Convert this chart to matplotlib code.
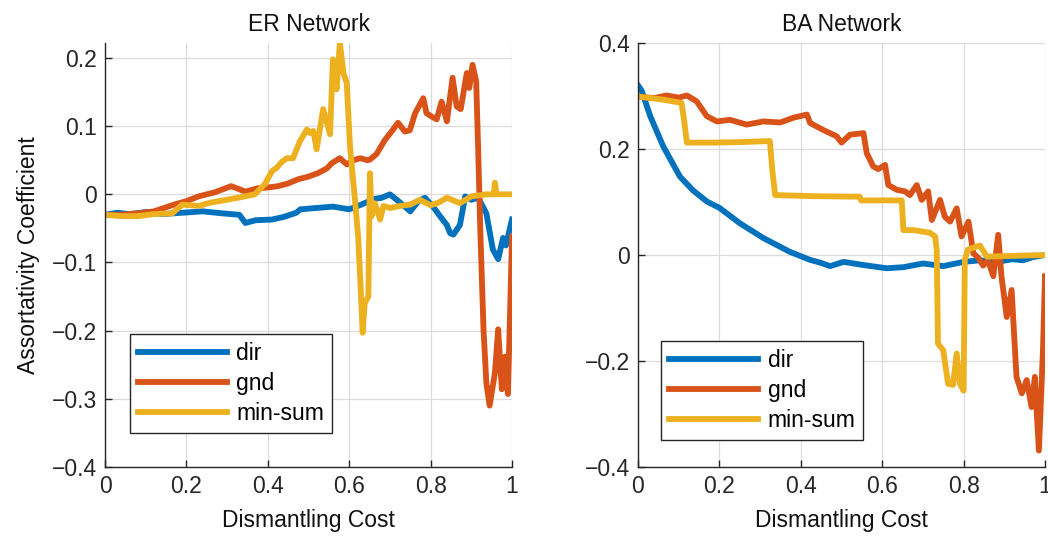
import numpy as np
import matplotlib.pyplot as plt

################################## DATA ##################################

# ER network (left panel)
er_dir_x = [0, 0.03, 0.06, 0.1, 0.14, 0.19, 0.24, 0.29, 0.33, 0.345, 0.37, 0.41, 0.44, 0.47,
            0.48, 0.52, 0.56, 0.6, 0.63, 0.66, 0.68, 0.70, 0.725, 0.75, 0.77, 0.786, 0.806,
            0.823, 0.84, 0.848, 0.856, 0.872, 0.885, 0.9, 0.917, 0.937, 0.953, 0.966, 0.978,
            0.985, 1.0]
er_dir_y = [-0.03, -0.027, -0.029, -0.026, -0.029, -0.027, -0.025, -0.028, -0.03, -0.042,
            -0.038, -0.037, -0.033, -0.027, -0.022, -0.02, -0.018, -0.022, -0.015, -0.007,
            -0.005, 0.0, -0.012, -0.025, -0.01, -0.005, -0.018, -0.032, -0.045, -0.057,
            -0.059, -0.045, -0.003, -0.008, -0.005, -0.028, -0.081, -0.095, -0.064, -0.075,
            -0.037]

er_gnd_x = [0, 0.04, 0.08, 0.12, 0.17, 0.2, 0.23, 0.27, 0.31, 0.345, 0.376, 0.4, 0.425, 0.45,
            0.474, 0.5, 0.523, 0.545, 0.558, 0.577, 0.594, 0.61, 0.627, 0.645, 0.651, 0.667,
            0.688, 0.704, 0.72, 0.737, 0.749, 0.762, 0.782, 0.79, 0.803, 0.815, 0.827, 0.84,
            0.854, 0.864, 0.874, 0.889, 0.895, 0.903, 0.912, 0.917, 0.922, 0.93, 0.937, 0.945,
            0.958, 0.966, 0.975, 0.983, 0.99, 0.995, 1.0]
er_gnd_y = [-0.03, -0.03, -0.028, -0.025, -0.015, -0.01, -0.003, 0.003, 0.012, 0.004, 0.009,
            0.01, 0.012, 0.016, 0.022, 0.026, 0.031, 0.038, 0.046, 0.053, 0.044, 0.05, 0.053,
            0.05, 0.051, 0.059, 0.08, 0.092, 0.105, 0.092, 0.094, 0.119, 0.141, 0.119, 0.114,
            0.11, 0.136, 0.107, 0.171, 0.129, 0.125, 0.178, 0.156, 0.19, 0.166, 0.063, -0.05,
            -0.198, -0.277, -0.31, -0.262, -0.198, -0.286, -0.238, -0.293, -0.179, -0.062]

er_ms_x = [0, 0.04, 0.08, 0.12, 0.165, 0.19, 0.23, 0.26, 0.28, 0.327, 0.368, 0.393, 0.41,
           0.422, 0.435, 0.447, 0.462, 0.479, 0.496, 0.504, 0.512, 0.52, 0.536, 0.553, 0.56,
           0.569, 0.577, 0.586, 0.594, 0.602, 0.614, 0.622, 0.628, 0.633, 0.638, 0.647, 0.651,
           0.655, 0.663, 0.676, 0.684, 0.7, 0.725, 0.75, 0.774, 0.8, 0.82, 0.84, 0.872, 0.9,
           0.937, 0.955, 0.958, 0.962, 1.0]
er_ms_y = [-0.03, -0.032, -0.032, -0.029, -0.028, -0.015, -0.017, -0.012, -0.01, -0.005, 0.0,
           0.015, 0.034, 0.039, 0.048, 0.053, 0.053, 0.078, 0.095, 0.09, 0.093, 0.066, 0.125,
           0.088, 0.198, 0.154, 0.222, 0.178, 0.163, 0.07, -0.007, -0.062, -0.135, -0.203,
           -0.16, -0.15, 0.031, -0.032, -0.013, -0.037, -0.017, -0.02, -0.017, -0.015, -0.008,
           -0.016, -0.012, -0.005, -0.013, -0.003, 0.0, 0.0, 0.017, 0.0, 0.0]

# BA network (right panel)
ba_dir_x = [0.0, 0.009, 0.03, 0.062, 0.103, 0.135, 0.169, 0.2, 0.25, 0.308, 0.373, 0.422,
            0.45, 0.472, 0.505, 0.554, 0.611, 0.652, 0.7, 0.75, 0.8, 0.84, 0.881, 0.92, 0.946,
            0.97, 1.0]
ba_dir_y = [0.32, 0.31, 0.262, 0.205, 0.148, 0.122, 0.101, 0.089, 0.06, 0.032, 0.006, -0.009,
            -0.015, -0.021, -0.013, -0.019, -0.025, -0.023, -0.016, -0.021, -0.013, -0.01,
            -0.013, -0.008, -0.01, -0.004, 0.0]

ba_gnd_x = [0, 0.04, 0.07, 0.1, 0.12, 0.144, 0.169, 0.194, 0.226, 0.267, 0.308, 0.349, 0.382,
            0.415, 0.423, 0.455, 0.488, 0.5, 0.521, 0.554, 0.562, 0.578, 0.59, 0.607, 0.615,
            0.636, 0.656, 0.668, 0.685, 0.697, 0.713, 0.722, 0.742, 0.754, 0.767, 0.783, 0.795,
            0.812, 0.824, 0.836, 0.848, 0.86, 0.873, 0.885, 0.893, 0.906, 0.918, 0.93, 0.943,
            0.955, 0.967, 0.975, 0.985, 0.995, 1.0]
ba_gnd_y = [0.299, 0.296, 0.301, 0.297, 0.301, 0.29, 0.262, 0.252, 0.255, 0.246, 0.252, 0.25,
            0.259, 0.265, 0.249, 0.236, 0.224, 0.212, 0.227, 0.23, 0.192, 0.167, 0.162, 0.17,
            0.132, 0.123, 0.12, 0.113, 0.132, 0.104, 0.12, 0.066, 0.104, 0.072, 0.063, 0.088,
            0.035, 0.063, 0.003, -0.005, -0.02, -0.01, -0.04, 0.038, -0.04, -0.117, -0.066,
            -0.23, -0.261, -0.236, -0.287, -0.23, -0.369, -0.18, -0.04]

ba_ms_x = [0, 0.062, 0.107, 0.114, 0.12, 0.185, 0.25, 0.324, 0.33, 0.337, 0.43, 0.545, 0.548,
           0.648, 0.652, 0.676, 0.717, 0.73, 0.734, 0.737, 0.75, 0.762, 0.774, 0.783, 0.791,
           0.8, 0.803, 0.81, 0.84, 0.857, 1.0]
ba_ms_y = [0.299, 0.293, 0.287, 0.25, 0.212, 0.212, 0.213, 0.215, 0.16, 0.113, 0.111, 0.11,
           0.103, 0.103, 0.047, 0.047, 0.042, 0.035, 0.01, -0.167, -0.18, -0.243, -0.245,
           -0.186, -0.243, -0.256, -0.009, 0.01, 0.018, -0.003, 0.0]

labels = ['dir', 'gnd', 'min-sum']
colors = ['#0072BD', '#D95319', '#EDB120']

################################## PLOT ##################################

plt.rcParams['font.family'] = ['Liberation Sans', 'DejaVu Sans']
fs = 16.5

fig = plt.figure(figsize=(10.48, 5.5), dpi=100)
ax1 = fig.add_axes([105/1048, 1 - 467/550, 407/1048, 424/550])
ax2 = fig.add_axes([638/1048, 1 - 467/550, 407/1048, 424/550])

panels = [
    (ax1, 'ER Network', [(er_dir_x, er_dir_y), (er_gnd_x, er_gnd_y), (er_ms_x, er_ms_y)],
     (-0.4, 0.222), [-0.4, -0.3, -0.2, -0.1, 0, 0.1, 0.2], (0.061, 0.314)),
    (ax2, 'BA Network', [(ba_dir_x, ba_dir_y), (ba_gnd_x, ba_gnd_y), (ba_ms_x, ba_ms_y)],
     (-0.4, 0.4), [-0.4, -0.2, 0, 0.2, 0.4], (0.0565, 0.297)),
]

for ax, title, series, ylim, yticks, leg_pos in panels:
    for (x, y), lab, c in zip(series, labels, colors):
        ax.plot(x, y, color=c, label=lab, linewidth=4.2, solid_joinstyle='round')
    ax.set_xlim(0, 1)
    ax.set_ylim(*ylim)
    ax.set_xticks([0, 0.2, 0.4, 0.6, 0.8, 1])
    ax.set_xticklabels(['0', '0.2', '0.4', '0.6', '0.8', '1'])
    ax.set_yticks(yticks)
    ax.set_yticklabels(['0' if t == 0 else ('%g' % t).replace('-', '\u2212') for t in yticks])
    ax.grid(True, color='#dcdcdc', linewidth=0.9)
    ax.set_axisbelow(True)
    for s in ['top', 'right']:
        ax.spines[s].set_visible(False)
    for s in ['left', 'bottom']:
        ax.spines[s].set_color('#262626')
        ax.spines[s].set_linewidth(1.0)
    ax.tick_params(direction='in', length=5, width=1, labelsize=fs, colors='#262626',
                   labelcolor='#262626', pad=6)
    ax.set_title(title, fontsize=fs, pad=9, color='#111111')
    ax.set_xlabel('Dismantling Cost', fontsize=fs, labelpad=8, color='#111111')
    leg = ax.legend(loc='upper left', bbox_to_anchor=leg_pos, borderaxespad=0,
                    fontsize=fs, handlelength=3.9, labelspacing=0.3, handletextpad=0.4,
                    borderpad=0.35, fancybox=False, framealpha=1)
    leg.get_frame().set_edgecolor('#262626')
    leg.get_frame().set_linewidth(1.0)

ax1.set_ylabel('Assortativity Coefficient', fontsize=fs, labelpad=8, color='#111111')

fig.savefig('out.png', dpi=100)
